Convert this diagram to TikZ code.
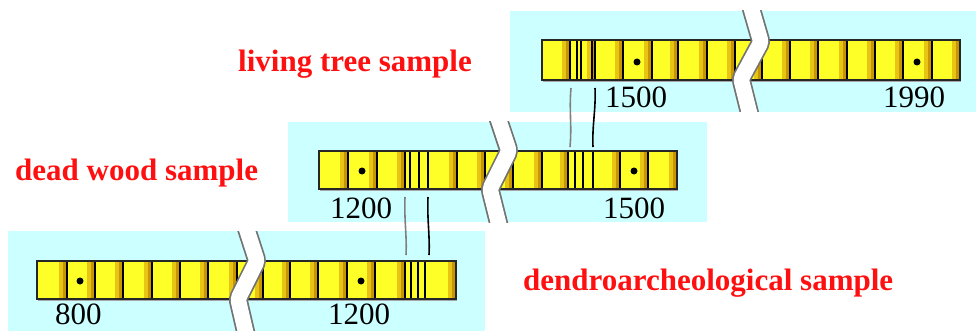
\documentclass[tikz,border=0pt]{standalone}
\usepackage{fontspec}
\setmainfont{Liberation Serif}
\definecolor{bgcyan}{RGB}{204,255,255}
\definecolor{woodyel}{RGB}{255,255,40}
\definecolor{woodlt}{RGB}{232,196,20}
\definecolor{wooddk}{RGB}{200,150,0}
\definecolor{lblred}{RGB}{255,16,16}
\tikzset{
  panel/.style={fill=bgcyan, draw=none},
  lbl/.style={text=lblred, font=\fontsize{31}{31}\selectfont\bfseries, anchor=base west, inner sep=0pt},
  yearlbl/.style={text=black, font=\fontsize{31}{31}\selectfont, anchor=base west, inner sep=0pt, text depth=0pt},
  ringline/.style={line width=2.7pt, black},
  cellline/.style={line width=1.4pt, black},
  stripedge/.style={line width=1.4pt, black!85},
  shadowline/.style={line width=1.6pt, black!35},
  ringdot/.style={circle, fill=black, inner sep=0pt, minimum size=7pt},
  conn/.style={line width=1.6pt, black},
  connlt/.style={line width=1.6pt, black!50},
  breakout/.style={line width=19pt, black!55, rounded corners=3pt},
  breakin/.style={line width=15.5pt, white, rounded corners=3pt}
}
\newcommand{\woodcells}[3]{%
  \foreach \b in {#1} {
    \fill[woodlt] (\b-8,#2) rectangle (\b-4,#3);
    \fill[wooddk] (\b-4,#2) rectangle (\b,#3);
    \draw[cellline] (\b,#2) -- (\b,#3);
  }}
\begin{document}
\begin{tikzpicture}[x=1pt,y=-1pt]
\useasboundingbox (0,0) rectangle (976,331);

% panels
\fill[panel] (510,11) rectangle (976,112);
\fill[panel] (288,122) rectangle (707,222);
\fill[panel] (8,231) rectangle (485,331);

% ---------- top strip ----------
\draw[shadowline] (543,81.5) -- (961,81.5);
\node[draw=none, fill=woodyel, inner sep=0pt, minimum width=418pt, minimum height=40pt, anchor=north west] (topstrip) at (542,40) {};
\woodcells{570,595,623,652,678,707,735,762,790,818,847,875,903,932,960}{40}{80}
\foreach \r in {577,581,592} \draw[ringline] (\r,40) -- (\r,80);
\draw[stripedge] (542,40) rectangle (960,80);
\node[ringdot] (tdot1) at (637,62) {};
\node[ringdot] (tdot2) at (917,62) {};

% ---------- middle strip ----------
\draw[shadowline] (320,190.5) -- (678,190.5);
\node[draw=none, fill=woodyel, inner sep=0pt, minimum width=358pt, minimum height=38pt, anchor=north west] (midstrip) at (319,151) {};
\woodcells{348,377,405,457,485,513,542,568,620,648,677}{151}{189}
\foreach \r in {410,419,428,575,583,593} \draw[ringline] (\r,151) -- (\r,189);
\draw[stripedge] (319,151) rectangle (677,189);
\node[ringdot] (mdot1) at (362,171) {};
\node[ringdot] (mdot2) at (634,171) {};

% ---------- bottom strip ----------
\draw[shadowline] (38,300.5) -- (457,300.5);
\node[draw=none, fill=woodyel, inner sep=0pt, minimum width=419pt, minimum height=38pt, anchor=north west] (botstrip) at (37,261) {};
\woodcells{67,95,123,152,180,208,237,263,290,318,347,375,405,456}{261}{299}
\foreach \r in {411,418,425} \draw[ringline] (\r,261) -- (\r,299);
\draw[stripedge] (37,261) rectangle (456,299);
\node[ringdot] (bdot1) at (80,281) {};
\node[ringdot] (bdot2) at (361,281) {};

% ---------- breaks ----------
\begin{scope}
\clip (510,11) rectangle (976,112);
\draw[breakout] (750,4) -- (761,42) -- (741,79) -- (751,119);
\draw[breakin] (750,4) -- (761,42) -- (741,79) -- (751,119);
\end{scope}
\begin{scope}
\clip (288,122) rectangle (707,222);
\draw[breakout] (497,115) -- (509,151) -- (490,189) -- (500,229);
\draw[breakin] (497,115) -- (509,151) -- (490,189) -- (500,229);
\end{scope}
\begin{scope}
\clip (8,231) rectangle (485,331);
\draw[breakout] (245,224) -- (257,261) -- (238,299) -- (247,338);
\draw[breakin] (245,224) -- (257,261) -- (238,299) -- (247,338);
\end{scope}

% ---------- connectors ----------
\coordinate (tA) at (571,88);
\coordinate (mA) at (570,147);
\coordinate (tB) at (595,88);
\coordinate (mB) at (593,147);
\draw[connlt] (tA) .. controls (569,110) and (572,125) .. (mA);
\draw[conn] (tB) .. controls (596,110) and (592,125) .. (mB);
\coordinate (mC) at (405,197);
\coordinate (bC) at (406,255);
\coordinate (mD) at (428,197);
\coordinate (bD) at (429,255);
\draw[connlt] (mC) .. controls (404,220) and (407,235) .. (bC);
\draw[conn] (mD) .. controls (427,220) and (430,235) .. (bD);

% ---------- labels ----------
\node[lbl] (lliving) at (238,72) {living tree sample};
\node[lbl] (ldead) at (15,181) {dead wood sample};
\node[lbl] (ldendro) at (523,290) {dendroarcheological sample};

\node[yearlbl] (y1500a) at (605,108) {1500};
\node[yearlbl] (y1990) at (883,108) {1990};
\node[yearlbl] (y1200a) at (330,218) {1200};
\node[yearlbl] (y1500b) at (603,218) {1500};
\node[yearlbl] (y800) at (55,324) {800};
\node[yearlbl] (y1200b) at (328,324) {1200};
\end{tikzpicture}
\end{document}
